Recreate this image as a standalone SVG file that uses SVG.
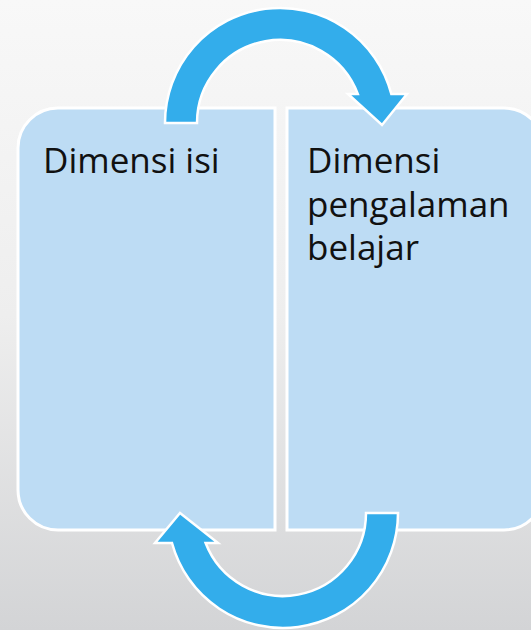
<svg xmlns="http://www.w3.org/2000/svg" width="531" height="630" viewBox="0 0 531 630">
  <defs>
    <linearGradient id="bg" x1="0" y1="0" x2="0" y2="1">
      <stop offset="0" stop-color="#f8f8f8"/>
      <stop offset="0.5" stop-color="#eeeeee"/>
      <stop offset="1" stop-color="#d3d4d6"/>
    </linearGradient>
  </defs>
  <style>
    .box { fill: #bddcf4; stroke: #ffffff; stroke-width: 3; }
    .arrow { fill: #33adeb; stroke: #ffffff; stroke-width: 2.5; stroke-linejoin: miter; }
    .lbl { font-family: "Open Sans", "Noto Sans", sans-serif; font-size: 35px; fill: #111111; }
  </style>
  <rect x="0" y="0" width="531" height="630" fill="url(#bg)"/>
  <g id="node-dimensi-isi">
    <path class="box" d="M275,108 L58,108 A40,40 0 0 0 18,148 L18,490 A40,40 0 0 0 58,530 L275,530 Z"/>
    <text class="lbl" x="43" y="173">Dimensi isi</text>
  </g>
  <g id="node-dimensi-pengalaman">
    <path class="box" d="M287,108 L504,108 A40,40 0 0 1 544,148 L544,490 A40,40 0 0 1 504,530 L287,530 Z"/>
    <text class="lbl" x="307" y="173">Dimensi</text>
    <text class="lbl" x="307" y="217">pengalaman</text>
    <text class="lbl" x="307" y="260">belajar</text>
  </g>
  <g id="connectors">
    <path class="arrow" d="M165,123 A115,115 0 0 1 391.3,94 L407,94 L382,125 L348,94 L357.8,94 A83,83 0 0 0 197,123 Z"/>
    <path class="arrow" d="M398,513 A115,115 0 0 1 172,543 L155,543 L180,513 L218,543 L205.6,543 A83,83 0 0 0 366,513 Z"/>
  </g>
</svg>
